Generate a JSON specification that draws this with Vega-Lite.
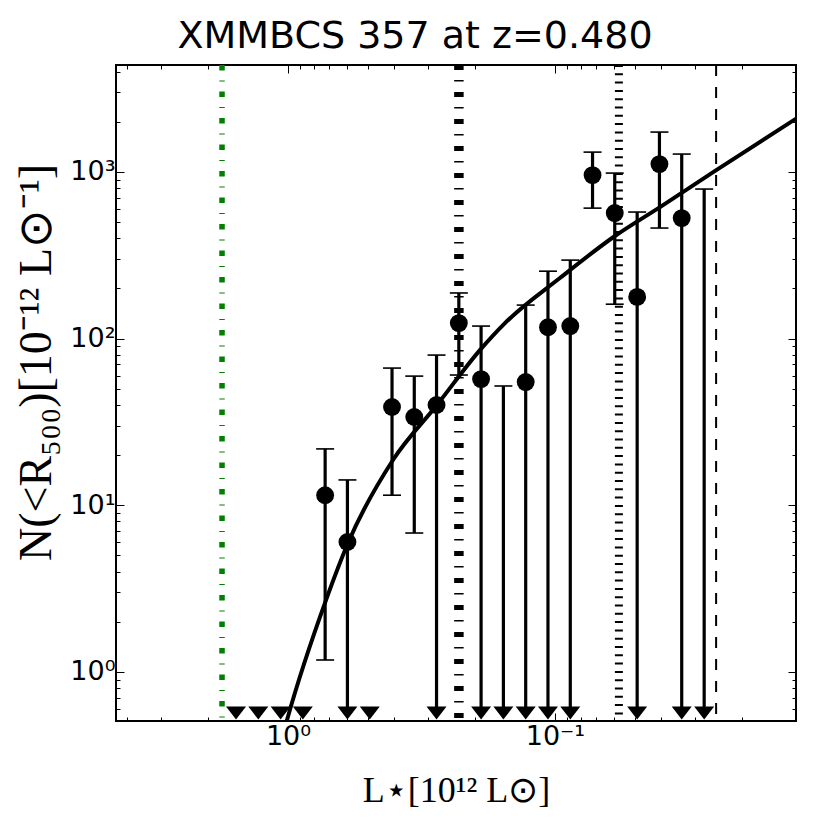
{
  "$schema": "https://vega.github.io/schema/vega-lite/v6.json",
  "width": 680,
  "height": 656,
  "autosize": {"type": "none"},
  "padding": {"left": 116, "top": 65, "right": 34, "bottom": 109},
  "background": "white",
  "title": {
    "text": "XMMBCS 357 at z=0.480",
    "font": "DejaVu Sans",
    "fontSize": 38,
    "fontWeight": "normal",
    "color": "black",
    "anchor": "middle",
    "frame": "group",
    "dx": -41,
    "dy": 43,
    "offset": 17,
    "baseline": "alphabetic"
  },
  "config": {
    "view": {"stroke": "black", "strokeWidth": 2},
    "axis": {
      "grid": false,
      "domain": false,
      "tickColor": "black",
      "tickWidth": 1,
      "labelColor": "black",
      "titleColor": "black",
      "labelFont": "DejaVu Sans",
      "labelFontSize": 27
    }
  },
  "datasets": {
    "vlines": [
      {"L": 1.767, "kind": "green"},
      {"L": 0.229, "kind": "dashdot"},
      {"L": 0.0576, "kind": "dotted"},
      {"L": 0.0249, "kind": "dashed"}
    ],
    "curve": [
      {"L": 1.035, "N": 0.443},
      {"L": 1.0086, "N": 0.515},
      {"L": 0.7206, "N": 2.7},
      {"L": 0.596, "N": 5.94},
      {"L": 0.4043, "N": 18.7},
      {"L": 0.2767, "N": 40.0},
      {"L": 0.191, "N": 85.4},
      {"L": 0.1539, "N": 124},
      {"L": 0.0958, "N": 231},
      {"L": 0.0596, "N": 413},
      {"L": 0.0404, "N": 616},
      {"L": 0.0252, "N": 1012},
      {"L": 0.0124, "N": 2105}
    ],
    "bins": [
      {"L": 1.566, "N": null, "hi": null, "lo": 0.567, "locap": false, "arrow": true},
      {"L": 1.292, "N": null, "hi": null, "lo": 0.567, "locap": false, "arrow": true},
      {"L": 1.066, "N": null, "hi": null, "lo": 0.567, "locap": false, "arrow": true},
      {"L": 0.88, "N": null, "hi": null, "lo": 0.567, "locap": false, "arrow": true},
      {"L": 0.726, "N": 11.5, "hi": 21.8, "lo": 1.18, "locap": true, "arrow": false},
      {"L": 0.599, "N": 6.02, "hi": 14.2, "lo": 0.567, "locap": false, "arrow": true},
      {"L": 0.494, "N": null, "hi": null, "lo": 0.567, "locap": false, "arrow": true},
      {"L": 0.4077, "N": 38.9, "hi": 66.6, "lo": 11.5, "locap": true, "arrow": false},
      {"L": 0.3365, "N": 33.9, "hi": 59.6, "lo": 6.82, "locap": true, "arrow": false},
      {"L": 0.2777, "N": 40.0, "hi": 79.7, "lo": 0.567, "locap": false, "arrow": true},
      {"L": 0.2291, "N": 124, "hi": 188, "lo": 60.5, "locap": true, "arrow": false},
      {"L": 0.1891, "N": 57.2, "hi": 119, "lo": 0.567, "locap": false, "arrow": true},
      {"L": 0.156, "N": null, "hi": 52.0, "lo": 0.567, "locap": false, "arrow": true},
      {"L": 0.1287, "N": 54.9, "hi": 159, "lo": 0.567, "locap": false, "arrow": true},
      {"L": 0.1062, "N": 117, "hi": 254, "lo": 0.567, "locap": false, "arrow": true},
      {"L": 0.0876, "N": 119, "hi": 296, "lo": 0.567, "locap": false, "arrow": true},
      {"L": 0.0723, "N": 958, "hi": 1316, "lo": 607, "locap": true, "arrow": false},
      {"L": 0.0597, "N": 567, "hi": 985, "lo": 161, "locap": true, "arrow": false},
      {"L": 0.0492, "N": 178, "hi": 575, "lo": 0.567, "locap": false, "arrow": true},
      {"L": 0.0406, "N": 1115, "hi": 1736, "lo": 461, "locap": true, "arrow": false},
      {"L": 0.0335, "N": 529, "hi": 1281, "lo": 0.567, "locap": false, "arrow": true},
      {"L": 0.0276, "N": null, "hi": 790, "lo": 0.567, "locap": false, "arrow": true}
    ]
  },
  "resolve": {"axis": {"x": "independent", "y": "independent"}},
  "layer": [
    {
      "data": {"name": "vlines"},
      "transform": [{"filter": "datum.kind == 'green'"}],
      "mark": {"type": "rule", "color": "#008000", "strokeWidth": 5.5, "strokeDash": [5.5, 10, 1, 10]},
      "encoding": {
        "x": {"field": "L", "type": "quantitative", "axis": null,
              "scale": {"type": "log", "domain": [0.0125, 4.41], "reverse": true, "nice": false}}
      }
    },
    {
      "data": {"name": "vlines"},
      "transform": [{"filter": "datum.kind == 'dashdot'"}],
      "mark": {"type": "rule", "color": "black", "strokeWidth": 9.5, "strokeDash": [5, 10, 1.5, 10.5]},
      "encoding": {"x": {"field": "L", "type": "quantitative", "axis": null}}
    },
    {
      "data": {"name": "vlines"},
      "transform": [{"filter": "datum.kind == 'dotted'"}],
      "mark": {"type": "rule", "color": "black", "strokeWidth": 8, "strokeDash": [2, 6.3]},
      "encoding": {"x": {"field": "L", "type": "quantitative", "axis": null}}
    },
    {
      "data": {"name": "vlines"},
      "transform": [{"filter": "datum.kind == 'dashed'"}],
      "mark": {"type": "rule", "color": "black", "strokeWidth": 2, "strokeDash": [11, 11]},
      "encoding": {"x": {"field": "L", "type": "quantitative", "axis": null}}
    },
    {
      "data": {"name": "curve"},
      "mark": {"type": "line", "color": "black", "strokeWidth": 4, "clip": true, "interpolate": "monotone"},
      "encoding": {
        "x": {"field": "L", "type": "quantitative",
              "axis": {"orient": "bottom", "values": [1, 0.1], "labelExpr": "datum.value > 0.5 ? '10⁰' : '10⁻¹'",
                       "tickSize": -8, "labelPadding": 10, "labelFontSize": 27, "labelFont": "DejaVu Sans",
                       "title": "L⋆[10¹² L⊙]", "titleFont": "Liberation Serif", "titleFontSize": 36,
                       "titleFontWeight": "normal", "titleX": 340, "titleY": 69, "titleBaseline": "middle"}},
        "y": {"field": "N", "type": "quantitative",
              "scale": {"type": "log", "domain": [0.508, 4385], "nice": false},
              "axis": {"orient": "left", "values": [1, 10, 100, 1000],
                       "labelExpr": "datum.value < 5 ? '10⁰' : datum.value < 50 ? '10¹' : datum.value < 500 ? '10²' : '10³'",
                       "tickSize": -8, "labelPadding": 9, "labelFontSize": 27, "labelFont": "DejaVu Sans",
                       "title": "N(<R₅₀₀)[10⁻¹² L⊙⁻¹]", "titleFont": "Liberation Serif", "titleFontSize": 46,
                       "titleFontWeight": "normal", "titleX": -80, "titleY": 297, "titleBaseline": "middle"}}
      }
    },
    {
      "data": {"name": "bins"},
      "transform": [{"filter": "datum.hi != null"}],
      "mark": {"type": "rule", "color": "black", "strokeWidth": 3.2},
      "encoding": {
        "x": {"field": "L", "type": "quantitative",
              "axis": {"orient": "top", "values": [1, 0.1], "labels": false, "tickSize": -8, "title": null}},
        "y": {"field": "lo", "type": "quantitative",
              "axis": {"orient": "right", "values": [1, 10, 100, 1000], "labels": false, "tickSize": -8, "title": null}},
        "y2": {"field": "hi"}
      }
    },
    {
      "data": {"name": "bins"},
      "transform": [{"filter": "datum.hi != null"}],
      "mark": {"type": "tick", "orient": "horizontal", "color": "black", "size": 18, "thickness": 1.6, "opacity": 1},
      "encoding": {
        "x": {"field": "L", "type": "quantitative",
              "axis": {"orient": "bottom", "values": [4, 3, 2, 0.9, 0.8, 0.7, 0.6, 0.5, 0.4, 0.3, 0.2, 0.09, 0.08, 0.07, 0.06, 0.05, 0.04, 0.03, 0.02],
                       "labels": false, "tickSize": -4, "title": null}},
        "y": {"field": "hi", "type": "quantitative",
              "axis": {"orient": "left", "values": [0.6, 0.7, 0.8, 0.9, 2, 3, 4, 5, 6, 7, 8, 9, 20, 30, 40, 50, 60, 70, 80, 90, 200, 300, 400, 500, 600, 700, 800, 900, 2000, 3000, 4000],
                       "labels": false, "tickSize": -4, "title": null}}
      }
    },
    {
      "data": {"name": "bins"},
      "transform": [{"filter": "datum.locap"}],
      "mark": {"type": "tick", "orient": "horizontal", "color": "black", "size": 18, "thickness": 1.6, "opacity": 1},
      "encoding": {
        "x": {"field": "L", "type": "quantitative",
              "axis": {"orient": "top", "values": [4, 3, 2, 0.9, 0.8, 0.7, 0.6, 0.5, 0.4, 0.3, 0.2, 0.09, 0.08, 0.07, 0.06, 0.05, 0.04, 0.03, 0.02],
                       "labels": false, "tickSize": -4, "title": null}},
        "y": {"field": "lo", "type": "quantitative",
              "axis": {"orient": "right", "values": [0.6, 0.7, 0.8, 0.9, 2, 3, 4, 5, 6, 7, 8, 9, 20, 30, 40, 50, 60, 70, 80, 90, 200, 300, 400, 500, 600, 700, 800, 900, 2000, 3000, 4000],
                       "labels": false, "tickSize": -4, "title": null}}
      }
    },
    {
      "data": {"name": "bins"},
      "transform": [{"filter": "datum.N != null"}],
      "mark": {"type": "point", "shape": "circle", "filled": true, "color": "black", "opacity": 1, "size": 320},
      "encoding": {
        "x": {"field": "L", "type": "quantitative", "axis": null},
        "y": {"field": "N", "type": "quantitative", "axis": null}
      }
    },
    {
      "data": {"name": "bins"},
      "transform": [{"filter": "datum.arrow"}],
      "mark": {"type": "point", "shape": "M-1,-0.65L1,-0.65L0,0.65Z", "filled": true, "color": "black", "opacity": 1, "size": 400},
      "encoding": {
        "x": {"field": "L", "type": "quantitative", "axis": null},
        "y": {"field": "lo", "type": "quantitative", "axis": null}
      }
    }
  ]
}
